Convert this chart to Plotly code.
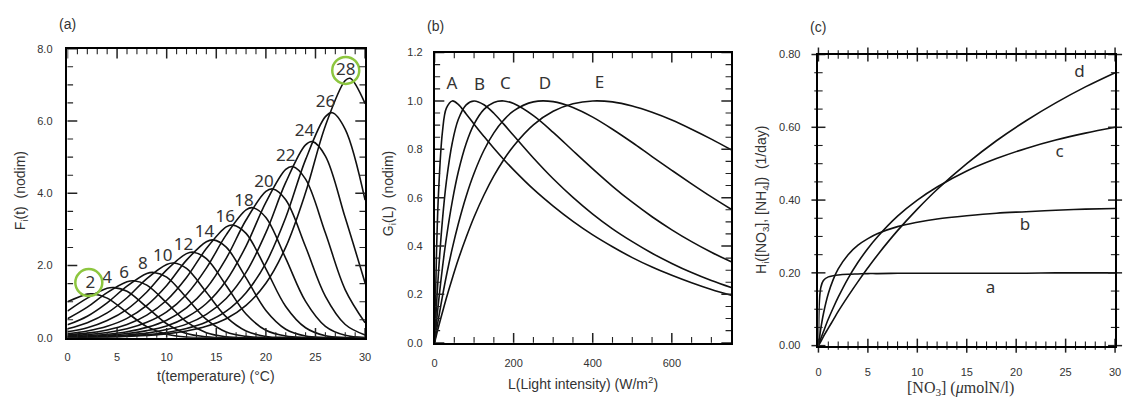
import plotly.graph_objects as go

# ---------------- Panel (a): F_i(t) ----------------
T_GRID = [0, 2, 4, 6, 8, 10, 12, 14, 16, 18, 20, 22, 24, 26, 28, 30]
T_OPT = [2, 4, 6, 8, 10, 12, 14, 16, 18, 20, 22, 24, 26, 28]
PEAK_T = [2.5, 4.7, 6.7, 8.7, 10.7, 12.7, 14.7, 16.7, 18.7, 20.7, 22.7, 24.7, 26.7, 28.5]
PEAK_F = [1.22, 1.39, 1.58, 1.81, 2.07, 2.37, 2.71, 3.12, 3.60, 4.12, 4.74, 5.43, 6.23, 7.18]
F_T02 = [1.00, 1.21, 1.10, 0.70, 0.31, 0.10, 0.02, 0.00, 0, 0, 0, 0, 0, 0, 0, 0]
F_T04 = [0.74, 1.10, 1.37, 1.29, 0.85, 0.39, 0.12, 0.03, 0.00, 0, 0, 0, 0, 0, 0, 0]
F_T06 = [0.53, 0.85, 1.25, 1.55, 1.46, 0.97, 0.44, 0.14, 0.03, 0.00, 0, 0, 0, 0, 0, 0]
F_T08 = [0.36, 0.60, 0.97, 1.43, 1.78, 1.68, 1.11, 0.51, 0.16, 0.04, 0.01, 0, 0, 0, 0, 0]
F_T10 = [0.25, 0.42, 0.69, 1.11, 1.64, 2.03, 1.92, 1.26, 0.58, 0.19, 0.04, 0.01, 0, 0, 0, 0]
F_T12 = [0.17, 0.28, 0.48, 0.79, 1.27, 1.88, 2.33, 2.19, 1.45, 0.66, 0.21, 0.05, 0.01, 0, 0, 0]
F_T14 = [0.11, 0.19, 0.32, 0.54, 0.90, 1.45, 2.15, 2.66, 2.51, 1.66, 0.76, 0.24, 0.05, 0.01, 0, 0]
F_T16 = [0.08, 0.13, 0.22, 0.37, 0.63, 1.04, 1.67, 2.47, 3.07, 2.89, 1.91, 0.87, 0.28, 0.06, 0.01, 0.00]
F_T18 = [0.05, 0.09, 0.15, 0.25, 0.43, 0.72, 1.20, 1.93, 2.85, 3.54, 3.33, 2.20, 1.01, 0.32, 0.07, 0.01]
F_T20 = [0.04, 0.06, 0.10, 0.17, 0.29, 0.49, 0.83, 1.37, 2.20, 3.26, 4.05, 3.82, 2.52, 1.15, 0.37, 0.08]
F_T22 = [0.02, 0.04, 0.07, 0.12, 0.20, 0.33, 0.57, 0.95, 1.58, 2.54, 3.75, 4.66, 4.39, 2.90, 1.33, 0.42]
F_T24 = [0.02, 0.03, 0.05, 0.08, 0.13, 0.23, 0.38, 0.65, 1.09, 1.81, 2.91, 4.30, 5.34, 5.03, 3.32, 1.52]
F_T26 = [0.01, 0.02, 0.03, 0.05, 0.09, 0.15, 0.26, 0.44, 0.74, 1.25, 2.07, 3.33, 4.93, 6.12, 5.77, 3.81]
F_T28 = [0.01, 0.01, 0.02, 0.04, 0.07, 0.11, 0.19, 0.32, 0.53, 0.90, 1.51, 2.51, 4.02, 5.87, 7.12, 6.48]
F_CURVES = [F_T02, F_T04, F_T06, F_T08, F_T10, F_T12, F_T14,
            F_T16, F_T18, F_T20, F_T22, F_T24, F_T26, F_T28]
LABEL_A_T = [2.3, 4.0, 5.7, 7.6, 9.6, 11.7, 13.8, 15.9, 17.8, 19.8, 22.0, 23.9, 26.0, 28.05]
LABEL_A_F = [1.50, 1.64, 1.77, 2.01, 2.23, 2.55, 2.91, 3.32, 3.77, 4.30, 5.01, 5.69, 6.50, 7.40]
CIRCLE_T = [2.15, 28.05]
CIRCLE_F = [1.53, 7.40]

# ---------------- Panel (b): G_i(L) ----------------
L_GRID = [0, 5, 10, 20, 30, 45, 60, 80, 100, 125, 150, 175, 200, 250, 300, 350,
          400, 450, 500, 550, 600, 650, 700, 750]
G_A = [0, 0.373, 0.616, 0.872, 0.970, 1.000, 0.986, 0.946, 0.904, 0.853, 0.804, 0.758,
       0.715, 0.635, 0.565, 0.502, 0.446, 0.397, 0.352, 0.313, 0.279, 0.248, 0.220, 0.196]
G_B = [0, 0.156, 0.290, 0.507, 0.667, 0.828, 0.923, 0.984, 1.000, 0.984, 0.949, 0.904,
       0.857, 0.764, 0.678, 0.601, 0.532, 0.471, 0.418, 0.370, 0.328, 0.290, 0.257, 0.228]
G_C = [0, 0.086, 0.167, 0.310, 0.434, 0.586, 0.706, 0.824, 0.904, 0.965, 0.994, 1.000,
       0.989, 0.939, 0.870, 0.794, 0.719, 0.647, 0.581, 0.521, 0.467, 0.418, 0.374, 0.335]
G_D = [0, 0.051, 0.100, 0.192, 0.277, 0.391, 0.491, 0.606, 0.701, 0.796, 0.868, 0.921,
       0.959, 0.996, 0.997, 0.973, 0.933, 0.883, 0.828, 0.770, 0.713, 0.657, 0.603, 0.552]
G_E = [0, 0.033, 0.065, 0.126, 0.185, 0.267, 0.344, 0.436, 0.520, 0.611, 0.690, 0.757,
       0.814, 0.901, 0.957, 0.988, 1.000, 0.996, 0.979, 0.953, 0.921, 0.883, 0.842, 0.798]
G_NAMES = ["A", "B", "C", "D", "E"]
LABEL_B_L = [44, 114, 179, 279, 417]
LABEL_B_G = [1.065, 1.062, 1.068, 1.068, 1.073]

# ---------------- Panel (c): H_i(N) ----------------
N_GRID = [0, 0.05, 0.1, 0.25, 0.5, 1, 1.5, 2, 3, 4, 5, 6, 8, 10, 12, 15, 18, 21, 24, 27, 30]
H_a = [0, 0.091, 0.125, 0.161, 0.179, 0.189, 0.192, 0.194, 0.196, 0.197, 0.198, 0.198,
       0.199, 0.199, 0.199, 0.199, 0.199, 0.199, 0.200, 0.200, 0.200]
H_b = [0, 0.011, 0.021, 0.049, 0.087, 0.143, 0.182, 0.211, 0.250, 0.276, 0.294, 0.308,
       0.327, 0.339, 0.348, 0.357, 0.364, 0.368, 0.372, 0.375, 0.377]
H_c = [0, 0.004, 0.008, 0.020, 0.038, 0.073, 0.104, 0.133, 0.185, 0.229, 0.267, 0.300,
       0.356, 0.400, 0.436, 0.480, 0.514, 0.542, 0.565, 0.584, 0.600]
H_d = [0, 0.003, 0.005, 0.012, 0.025, 0.048, 0.071, 0.094, 0.136, 0.176, 0.214, 0.250,
       0.316, 0.375, 0.429, 0.500, 0.563, 0.618, 0.667, 0.711, 0.750]
H_NAMES = ["a", "b", "c", "d"]
LABEL_C_N = [17.4, 20.9, 24.4, 26.4]
LABEL_C_H = [0.156, 0.329, 0.529, 0.749]

# ---------------- axis ranges and tick values ----------------
A_XRANGE, A_YRANGE = [0, 30], [0, 8]
B_XRANGE, B_YRANGE = [0, 750], [0, 1.2]
C_XRANGE, C_YRANGE = [0, 30], [0, 0.8]
A_XMAJOR = [0, 5, 10, 15, 20, 25, 30]
A_YMAJOR = [0, 2, 4, 6, 8]
B_XMAJOR = [0, 200, 400, 600]
B_YMAJOR = [0, 0.2, 0.4, 0.6, 0.8, 1.0, 1.2]
C_XMAJOR = [0, 5, 10, 15, 20, 25, 30]
C_YMAJOR = [0, 0.2, 0.4, 0.6, 0.8]
A_XMINOR = [v for v in range(1, 30) if v % 5]
A_YMINOR = [v / 2 for v in range(1, 16) if v % 4]
B_XMINOR = [v for v in range(50, 750, 50) if v % 200]
B_YMINOR = [round(v * 0.05, 2) for v in range(1, 24) if v % 4]
C_XMINOR = [v for v in range(1, 30) if v % 5]
C_YMINOR = [round(v * 0.05, 2) for v in range(1, 16) if v % 4]

W, H = 1129, 405
INK = "#222222"
LINE = dict(color="#111111", width=1.6, shape="spline")
TICKFONT = dict(family="Liberation Sans", size=11, color="#333333")
LABFONT = dict(family="Noto Sans", size=17, color="#333333")

fig = go.Figure()

# (a)
for tp, fp, vals in zip(PEAK_T, PEAK_F, F_CURVES):
    pts = sorted(list(zip(T_GRID, vals)) + [(tp, fp)])
    fig.add_trace(go.Scatter(x=[p[0] for p in pts], y=[p[1] for p in pts], mode="lines",
                             line=LINE, xaxis="x", yaxis="y", hoverinfo="skip"))
fig.add_trace(go.Scatter(x=LABEL_A_T, y=LABEL_A_F, mode="text", text=[str(v) for v in T_OPT],
                         textposition="middle center", textfont=LABFONT,
                         xaxis="x", yaxis="y", hoverinfo="skip"))
fig.add_trace(go.Scatter(x=CIRCLE_T, y=CIRCLE_F, mode="markers",
                         marker=dict(symbol="circle-open", size=27, color="#8dc63f",
                                     line=dict(width=2.5, color="#8dc63f")),
                         xaxis="x", yaxis="y", hoverinfo="skip"))
# (b)
for vals in [G_A, G_B, G_C, G_D, G_E]:
    fig.add_trace(go.Scatter(x=L_GRID, y=vals, mode="lines", line=LINE,
                             xaxis="x2", yaxis="y2", hoverinfo="skip"))
fig.add_trace(go.Scatter(x=LABEL_B_L, y=LABEL_B_G, mode="text", text=G_NAMES,
                         textposition="middle center", textfont=LABFONT,
                         xaxis="x2", yaxis="y2", hoverinfo="skip"))
# (c)
for vals in [H_a, H_b, H_c, H_d]:
    fig.add_trace(go.Scatter(x=N_GRID, y=vals, mode="lines", line=LINE,
                             xaxis="x3", yaxis="y3", hoverinfo="skip"))
fig.add_trace(go.Scatter(x=LABEL_C_N, y=LABEL_C_H, mode="text", text=H_NAMES,
                         textposition="middle center", textfont=LABFONT,
                         xaxis="x3", yaxis="y3", hoverinfo="skip"))


# tick marks on all four sides of each frame, drawn as short line markers
def tick_marks(vals, xr, yr, on_x, size, width, xa, ya, clip):
    n = len(vals)
    if on_x:
        xs, ys, sym = vals + vals, [yr[0]] * n + [yr[1]] * n, "line-ns"
    else:
        xs, ys, sym = [xr[0]] * n + [xr[1]] * n, vals + vals, "line-ew"
    fig.add_trace(go.Scatter(x=xs, y=ys, mode="markers", cliponaxis=clip,
                             marker=dict(symbol=sym, size=size, color=INK,
                                         line=dict(width=width, color=INK)),
                             xaxis=xa, yaxis=ya, hoverinfo="skip"))


for xa, ya, xr, yr, xmaj, xmin, ymaj, ymin, clip, big, small in [
    ("x", "y", A_XRANGE, A_YRANGE, A_XMAJOR, A_XMINOR, A_YMAJOR, A_YMINOR, True, 14, 8),
    ("x2", "y2", B_XRANGE, B_YRANGE, B_XMAJOR, B_XMINOR, B_YMAJOR, B_YMINOR, True, 14, 8),
    ("x3", "y3", C_XRANGE, C_YRANGE, C_XMAJOR, C_XMINOR, C_YMAJOR, C_YMINOR, False, 10, 6),
]:
    tick_marks(xmaj, xr, yr, True, big, 1.5, xa, ya, clip)
    tick_marks(xmin, xr, yr, True, small, 1.1, xa, ya, clip)
    tick_marks(ymaj, xr, yr, False, big, 1.5, xa, ya, clip)
    tick_marks(ymin, xr, yr, False, small, 1.1, xa, ya, clip)


def px2fx(px):
    return px / W


def px2fy(py):
    return 1 - py / H


def base(**kw):
    d = dict(showline=True, linecolor="black", linewidth=1.5, ticks="", showgrid=False,
             zeroline=False, mirror=True, tickfont=TICKFONT)
    d.update(kw)
    return d


A_X = [px2fx(65), px2fx(365)]
A_Y = [px2fy(342), px2fy(44)]
B_X = [px2fx(435), px2fx(734)]
B_Y = [px2fy(347), px2fy(48)]
C_X = [px2fx(822), px2fx(1121)]
C_Y = [px2fy(350), px2fy(50)]

fig.update_layout(
    width=W, height=H, margin=dict(l=0, r=0, t=0, b=0),
    plot_bgcolor="white", showlegend=False,
    xaxis=base(domain=A_X, anchor="y", range=A_XRANGE, tickvals=A_XMAJOR,
               ticklabelstandoff=8),
    yaxis=base(domain=A_Y, anchor="x", range=A_YRANGE, tickvals=A_YMAJOR,
               tickformat=".1f", ticklabelstandoff=11),
    xaxis2=base(domain=B_X, anchor="y2", range=B_XRANGE, tickvals=B_XMAJOR,
                ticklabelstandoff=9),
    yaxis2=base(domain=B_Y, anchor="x2", range=B_YRANGE, tickvals=B_YMAJOR,
                tickformat=".1f", ticklabelstandoff=8),
    xaxis3=base(domain=C_X, anchor="y3", range=C_XRANGE, tickvals=C_XMAJOR,
                ticklabelstandoff=15),
    yaxis3=base(domain=C_Y, anchor="x3", range=C_YRANGE, tickvals=C_YMAJOR,
                tickformat=".2f", ticklabelstandoff=14),
)

TFONT = dict(family="Liberation Sans", size=14, color="#333333")
for txt, px, py in [("(a)", 65, 19), ("(b)", 436, 21), ("(c)", 822, 22)]:
    fig.add_annotation(text=txt, x=px2fx(px), y=px2fy(py), xref="paper", yref="paper",
                       showarrow=False, xanchor="center", yanchor="middle", font=TFONT)
for txt, px, py, ang, font in [
    ("t(temperature) (°C)", 215, 381, 0, TFONT),
    ("F<sub>i</sub>(t)  (nodim)", 19, 190, -90, TFONT),
    ("L(Light intensity) (W/m<sup>2</sup>)", 585, 388, 0, TFONT),
    ("G<sub>i</sub>(L)  (nodim)", 389, 193, -90, TFONT),
    ("[NO<sub>3</sub>] (<i>μ</i>molN/l)", 965, 394, 0,
     dict(family="Liberation Serif", size=16, color="#333333")),
    ("H<sub>i</sub>([NO<sub>3</sub>], [NH<sub>4</sub>])  (1/day)", 765, 200, -90, TFONT),
]:
    fig.add_annotation(text=txt, x=px2fx(px), y=px2fy(py), xref="paper", yref="paper",
                       showarrow=False, xanchor="center", yanchor="middle", textangle=ang,
                       font=font)

fig.write_html("out.html")
